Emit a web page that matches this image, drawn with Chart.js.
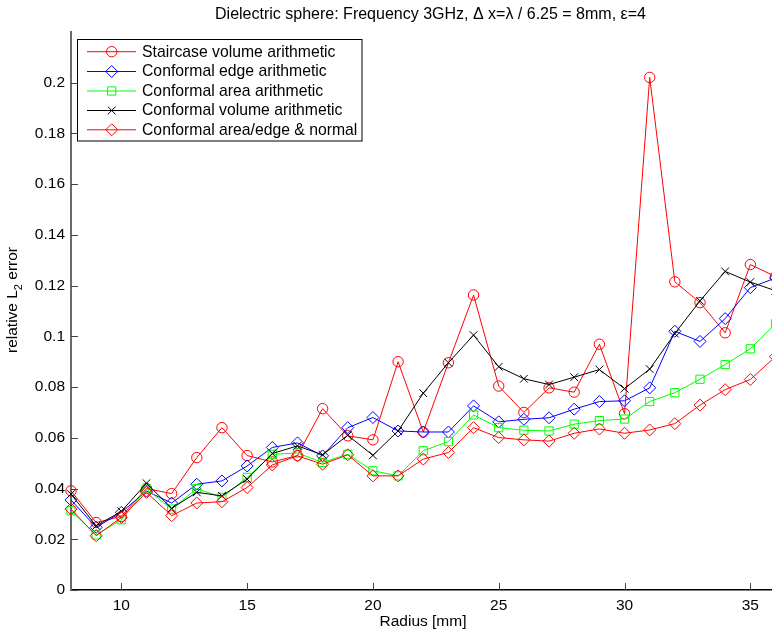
<!DOCTYPE html>
<html>
<head>
<meta charset="utf-8">
<script src="https://cdn.jsdelivr.net/npm/chart.js@4/dist/chart.umd.min.js"></script>
<style>
  html, body { margin: 0; padding: 0; background: #fff; }
  #wrap { width: 772px; height: 634px; position: relative; }
</style>
</head>
<body>
<div id="wrap"><canvas id="c" width="772" height="634"></canvas></div>
<script>
const radius = [8,9,10,11,12,13,14,15,16,17,18,19,20,21,22,23,24,25,26,27,28,29,30,31,32,33,34,35,36];
const staircaseVolume = [0.0391,0.0266,0.029,0.040,0.038,0.0522,0.064,0.053,0.0505,0.053,0.0715,0.0608,0.0592,0.090,0.0623,0.0896,0.1163,0.0804,0.070,0.0797,0.078,0.0969,0.0695,0.2021,0.1215,0.1133,0.1014,0.1283,0.1236];
const conformalEdge = [0.0355,0.0247,0.0306,0.039,0.0343,0.0417,0.043,0.0489,0.0562,0.058,0.0529,0.064,0.068,0.0627,0.0623,0.0623,0.0726,0.0663,0.0673,0.0679,0.0713,0.0743,0.0746,0.0797,0.102,0.098,0.107,0.1192,0.123];
const conformalArea = [0.0312,0.0217,0.0277,0.0398,0.0319,0.040,0.0365,0.0444,0.0535,0.054,0.0503,0.0535,0.047,0.045,0.0549,0.0585,0.069,0.064,0.063,0.0627,0.0654,0.0668,0.0674,0.0743,0.0778,0.0831,0.0889,0.0951,0.105];
const conformalVolume = [0.0378,0.0253,0.031,0.0421,0.0322,0.0385,0.0371,0.0437,0.0538,0.0568,0.0533,0.061,0.0531,0.0627,0.0776,0.0896,0.1005,0.088,0.0833,0.081,0.0839,0.0869,0.0794,0.0871,0.1011,0.114,0.1256,0.1214,0.118];
const conformalNormal = [0.0319,0.0214,0.0286,0.0385,0.0293,0.0343,0.0348,0.0404,0.0493,0.0529,0.0496,0.0533,0.045,0.045,0.0516,0.0542,0.064,0.0601,0.0592,0.0587,0.0618,0.0635,0.0618,0.0631,0.0656,0.0729,0.079,0.083,0.092];
const xTicks = [10,15,20,25,30,35];
const yTicks = [0,0.02,0.04,0.06,0.08,0.1,0.12,0.14,0.16,0.18,0.2];
const yTickLabels = ['0','0.02','0.04','0.06','0.08','0.1','0.12','0.14','0.16','0.18','0.2'];
const seriesNames = ['Staircase volume arithmetic','Conformal edge arithmetic','Conformal area arithmetic','Conformal volume arithmetic','Conformal area/edge & normal'];
const titleText = 'Dielectric sphere: Frequency 3GHz, \u0394 x=\u03bb / 6.25 = 8mm, \u03b5=4';

const FONT = '"Liberation Sans", Arial, Helvetica, sans-serif';

function pts(vals) { return radius.map((r, i) => ({x: r, y: vals[i]})); }

const styles = [
  {color: '#ff0000', pointStyle: 'circle', radius: 5.2},
  {color: '#0000ff', pointStyle: 'rectRot', radius: 6},
  {color: '#00ff00', pointStyle: 'rect', radius: 5.8},
  {color: '#000000', pointStyle: 'crossRot', radius: 5.5},
  {color: '#ff0000', pointStyle: 'rectRot', radius: 6}
];
const seriesData = [staircaseVolume, conformalEdge, conformalArea, conformalVolume, conformalNormal];

const datasets = seriesData.map((vals, i) => ({
  label: seriesNames[i],
  data: pts(vals),
  borderColor: styles[i].color,
  backgroundColor: 'rgba(0,0,0,0)',
  borderWidth: 1,
  pointStyle: styles[i].pointStyle,
  pointRadius: styles[i].radius,
  pointBorderColor: styles[i].color,
  pointBackgroundColor: 'rgba(0,0,0,0)',
  pointBorderWidth: 1,
  tension: 0,
  order: 5 - i,
  clip: false
}));

function drawMarker(ctx, style, r, x, y, color) {
  ctx.save();
  ctx.strokeStyle = color;
  ctx.lineWidth = 1;
  ctx.beginPath();
  if (style === 'circle') {
    ctx.arc(x, y, r, 0, Math.PI * 2);
  } else if (style === 'rectRot') {
    ctx.moveTo(x, y - r); ctx.lineTo(x + r, y); ctx.lineTo(x, y + r); ctx.lineTo(x - r, y); ctx.closePath();
  } else if (style === 'rect') {
    const s = r * Math.SQRT1_2;
    ctx.rect(x - s, y - s, 2 * s, 2 * s);
  } else if (style === 'crossRot') {
    const s = r * Math.SQRT1_2;
    ctx.moveTo(x - s, y - s); ctx.lineTo(x + s, y + s);
    ctx.moveTo(x + s, y - s); ctx.lineTo(x - s, y + s);
  }
  ctx.stroke();
  ctx.restore();
}

const layoutPlugin = {
  id: 'fixArea',
  afterLayout(chart) {
    const xs = chart.scales.x;
    const ca = chart.chartArea;
    const L = 71, R = 775.5;
    ca.left = L; ca.right = R; ca.width = R - L;
    xs.left = L; xs.right = R; xs.width = R - L;
    xs.configure();
  }
};

const decorPlugin = {
  id: 'decor',
  afterDraw(chart) {
    const ctx = chart.ctx;
    const xs = chart.scales.x, ys = chart.scales.y;
    const area = chart.chartArea;
    ctx.save();
    // inward ticks
    ctx.strokeStyle = '#444';
    ctx.lineWidth = 1;
    xTicks.forEach(t => {
      const px = Math.round(xs.getPixelForValue(t)) + 0.5;
      ctx.beginPath(); ctx.moveTo(px, area.bottom); ctx.lineTo(px, area.bottom - 7); ctx.stroke();
    });
    yTicks.forEach(t => {
      const py = Math.round(ys.getPixelForValue(t)) + 0.5;
      ctx.beginPath(); ctx.moveTo(area.left, py); ctx.lineTo(area.left + 7, py); ctx.stroke();
    });
    // title
    ctx.fillStyle = '#000';
    ctx.font = '16px ' + FONT;
    ctx.textAlign = 'center';
    ctx.textBaseline = 'middle';
    ctx.fillText(titleText, 430.5, 15);
    // x label
    ctx.font = '15.5px ' + FONT;
    ctx.fillText('Radius [mm]', 423, 622);
    // y label with subscript
    ctx.translate(13, 300);
    ctx.rotate(-Math.PI / 2);
    const p1 = 'relative L', p2 = '2', p3 = ' error';
    ctx.font = '15.5px ' + FONT;
    const w1 = ctx.measureText(p1).width, w3 = ctx.measureText(p3).width;
    ctx.font = '11px ' + FONT;
    const w2 = ctx.measureText(p2).width;
    const total = w1 + w2 + w3;
    let x0 = -total / 2;
    ctx.textAlign = 'left';
    ctx.font = '15.5px ' + FONT;
    ctx.fillText(p1, x0, 0);
    ctx.font = '11px ' + FONT;
    ctx.fillText(p2, x0 + w1, 6);
    ctx.font = '15.5px ' + FONT;
    ctx.fillText(p3, x0 + w1 + w2, 0);
    ctx.restore();

    // legend
    ctx.save();
    const bx = 77.5, by = 39.5, bw = 284.5, bh = 101.5;
    ctx.fillStyle = '#fff';
    ctx.fillRect(bx, by, bw, bh);
    ctx.strokeStyle = '#000';
    ctx.lineWidth = 1;
    ctx.strokeRect(bx, by, bw, bh);
    const rowY = [51.7, 71.5, 91.0, 110.5, 129.8];
    chart.data.datasets.forEach((ds, i) => {
      const y = rowY[i];
      ctx.strokeStyle = ds.borderColor;
      ctx.lineWidth = 1;
      ctx.beginPath(); ctx.moveTo(87, y); ctx.lineTo(136, y); ctx.stroke();
      drawMarker(ctx, ds.pointStyle, ds.pointRadius, 111.7, y, ds.borderColor);
      ctx.fillStyle = '#000';
      ctx.font = '15.75px ' + FONT;
      ctx.textAlign = 'left';
      ctx.textBaseline = 'middle';
      ctx.fillText(ds.label, 142, y + 0.5);
    });
    ctx.restore();
  }
};

new Chart(document.getElementById('c'), {
  type: 'line',
  data: { datasets },
  options: {
    responsive: false,
    animation: false,
    devicePixelRatio: 1,
    layout: { padding: { top: 32, right: 0, bottom: 0, left: 0 } },
    plugins: { legend: { display: false }, title: { display: false }, tooltip: { enabled: false } },
    scales: {
      x: {
        type: 'linear',
        min: 8, max: 36,
        afterFit(s) { s.height = 44; },
        afterBuildTicks(s) { s.ticks = xTicks.map(v => ({value: v})); },
        grid: { display: true, drawOnChartArea: false, drawTicks: false },
        border: { display: true, color: '#000', width: 1.5 },
        ticks: { color: '#000', padding: 6, font: { family: FONT, size: 15.5 }, maxRotation: 0, callback: v => String(v) }
      },
      y: {
        type: 'linear',
        min: 0, max: 0.22,
        afterFit(s) { s.width = 71; },
        afterBuildTicks(s) { s.ticks = yTicks.map(v => ({value: v})); },
        grid: { display: true, drawOnChartArea: false, drawTicks: false },
        border: { display: true, color: '#6a6a6a', width: 2 },
        ticks: { color: '#000', padding: 6, font: { family: FONT, size: 15.5 },
          callback: (v) => { const i = yTicks.findIndex(t => Math.abs(t - v) < 1e-9); return i >= 0 ? yTickLabels[i] : ''; } }
      }
    }
  },
  plugins: [layoutPlugin, decorPlugin]
});
</script>
</body>
</html>
